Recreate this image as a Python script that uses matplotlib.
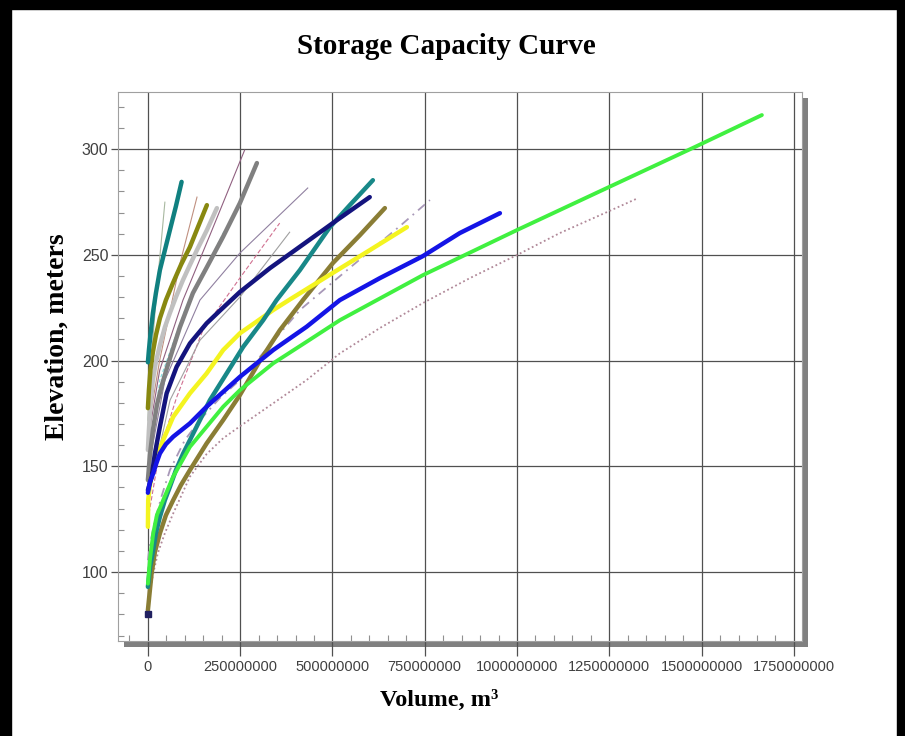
import matplotlib
matplotlib.use("Agg")
import matplotlib.pyplot as plt
from matplotlib.patches import Rectangle
from matplotlib.ticker import MultipleLocator, FuncFormatter

# Storage capacity curves: volume (m3) vs elevation (m)
vol_teal_a = [0, 2.7e6, 6.8e6, 13.5e6, 21.7e6, 32.5e6, 46e6, 59.6e6, 75.9e6, 91.3e6]
elev_teal_a = [199.2, 204.9, 212.0, 222.4, 231.9, 242.8, 252.2, 261.7, 273.0, 284.5]

vol_olive_a = [0, 2.7e6, 6.8e6, 13.5e6, 21.7e6, 32.5e6, 48.8e6, 67.7e6, 89.4e6, 113.8e6, 135.5e6, 159.8e6]
elev_olive_a = [177.5, 186.0, 195.5, 204.0, 212.0, 220.0, 228.6, 236.6, 245.2, 253.7, 263.1, 273.5]

vol_silver = [0, 2.7e6, 6.8e6, 13.5e6, 21.7e6, 32.5e6, 46e6, 59.6e6, 75.9e6, 94.8e6, 113.8e6,
              132.7e6, 159.8e6, 186.9e6]
elev_silver = [157.7, 167.1, 178.9, 190.8, 199.3, 207.3, 215.8, 222.5, 230.0, 238.0, 245.2,
               252.2, 261.7, 272.1]

vol_gray = [0, 5.4e6, 13.5e6, 24.4e6, 37.9e6, 51.5e6, 65e6, 86.7e6, 121.9e6, 159.8e6, 203.2e6,
            249.3e6, 295.3e6]
elev_gray = [143.5, 155.3, 167.1, 179.0, 188.4, 196.5, 204.0, 215.8, 231.9, 244.2, 258.4,
             274.5, 293.4]

vol_navy = [0, 10e6, 19e6, 32.5e6, 50.7e6, 77.7e6, 113.8e6, 159e6, 195e6, 222e6, 249e6, 330.5e6,
            425e6, 512e6, 601e6]
elev_navy = [138.7, 145.0, 156.1, 168.7, 184.5, 197.0, 208.1, 217.6, 223.6, 228.0, 232.4, 243.7,
             255.5, 266.4, 277.3]

vol_teal_b = [0, 5.4e6, 14.4e6, 21.7e6, 32.5e6, 46e6, 59.6e6, 75.9e6, 95.6e6, 131.9e6, 168e6,
              213.2e6, 258.2e6, 312.3e6, 348.6e6, 411.8e6, 493e6, 547e6, 609.5e6]
elev_teal_b = [93.0, 101.9, 110.4, 118.4, 126.1, 134.0, 140.3, 148.2, 156.1, 168.7, 181.3,
               193.9, 206.5, 219.1, 228.6, 242.8, 263.1, 273.5, 285.3]

vol_olive_b = [0, 5.4e6, 10e6, 19e6, 32.5e6, 48.8e6, 68.5e6, 89.4e6, 113.8e6, 159e6, 204e6,
               249.2e6, 303e6, 357.6e6, 420e6, 501e6, 574.3e6, 642e6]
elev_olive_b = [82.0, 91.5, 99.4, 109.5, 118.3, 126.9, 134.0, 141.1, 148.2, 160.8, 171.9,
                183.7, 199.8, 214.4, 228.6, 246.1, 259.3, 272.1]

vol_yellow = [0, 0.8e6, 5.4e6, 10.8e6, 21.7e6, 41.4e6, 68.5e6, 113.8e6, 159e6, 204e6, 249.2e6,
              339.4e6, 384.7e6, 493e6, 601e6, 701.6e6]
elev_yellow = [121.4, 134.0, 141.1, 145.9, 153.9, 162.4, 173.4, 184.5, 193.9, 205.0, 212.9,
               223.9, 228.9, 240.6, 252.2, 263.1]

vol_blue = [0, 5.4e6, 14.4e6, 23e6, 32.5e6, 48.8e6, 68.5e6, 113.8e6, 159e6, 249.2e6, 339.4e6,
            430e6, 520e6, 628.5e6, 745e6, 845e6, 953.6e6]
elev_blue = [137.5, 142.5, 146.7, 151.5, 156.1, 160.5, 164.0, 170.3, 178.2, 192.3, 205.0,
             216.0, 228.6, 239.0, 249.4, 260.3, 269.7]

vol_green = [0, 5.4e6, 14.4e6, 24.4e6, 41.4e6, 68.5e6, 113.8e6, 159e6, 204e6, 249.2e6, 339.4e6,
             430e6, 520e6, 745e6, 999.6e6, 1243.4e6, 1481.8e6, 1663.3e6]
elev_green = [94.5, 105.7, 118.3, 127.0, 134.0, 145.1, 159.2, 168.7, 178.2, 186.0, 198.7,
              208.9, 219.1, 240.4, 261.7, 281.6, 301.0, 316.1]

vol_dotted = [0, 5.4e6, 13.5e6, 27e6, 46e6, 68.5e6, 113.8e6, 159e6, 204e6, 249.2e6, 339.4e6,
              430e6, 520e6, 628.5e6, 745e6, 872.3e6, 999.6e6, 1116e6, 1243.4e6, 1327.4e6]
elev_dotted = [84.4, 90.5, 98.6, 109.0, 118.4, 127.7, 145.1, 155.8, 163.3, 168.9, 179.8,
               190.8, 203.4, 215.4, 227.2, 239.0, 249.9, 260.3, 270.2, 276.8]

vol_dashdot = [0, 5.4e6, 19e6, 38e6, 59.6e6, 100e6, 141e6, 195e6, 249.2e6, 330.5e6, 411.8e6,
               520e6, 601.4e6, 682.7e6, 764e6]
elev_dashdot = [105.6, 112.8, 124.6, 136.4, 148.2, 162.4, 171.9, 182.3, 190.8, 207.3, 223.9,
                239.9, 251.8, 263.6, 275.9]

vol_thin_purple = [0, 32e6, 95e6, 168e6, 262e6]
elev_thin_purple = [162.3, 195.5, 228.6, 259.3, 299.5]

vol_thin_mauve = [0, 46e6, 141e6, 249e6, 433e6]
elev_thin_mauve = [148.0, 190.7, 228.6, 250.8, 281.6]

vol_thin_pink = [0, 32e6, 78e6, 149e6, 249e6, 357e6]
elev_thin_pink = [124.5, 157.6, 182.7, 214.4, 239.0, 265.0]

vol_thin_gray = [0, 60e6, 141e6, 249e6, 384e6]
elev_thin_gray = [134.0, 181.3, 209.6, 230.0, 260.7]

vol_thin_sage = [0, 11e6, 24e6, 46e6]
elev_thin_sage = [171.8, 204.9, 233.3, 274.9]

vol_thin_rose = [0, 32e6, 87e6, 133e6]
elev_thin_rose = [167.0, 200.2, 246.0, 277.3]

vol_thin_cyan = [0, 32e6, 100e6, 208e6]
elev_thin_cyan = [148.0, 190.7, 223.8, 261.7]

marker_vol = [0]
marker_elev = [80]

plt.rcParams["font.family"] = ["Liberation Sans", "DejaVu Sans"]

fig = plt.figure(figsize=(9.05, 7.36), dpi=100)
ax = fig.add_axes([118 / 905, 95 / 736, 684 / 905, 549 / 736])

# drop shadow behind the plot frame
px_w, px_h = 1 / 905, 1 / 736
fig.add_artist(Rectangle((118 / 905 + 6 * px_w, 95 / 736 - 6 * px_h), 684 / 905, 549 / 736,
                         transform=fig.transFigure, facecolor="#808080", edgecolor="none", zorder=-1))

# page border
fig.add_artist(Rectangle((0, 0), 11 * px_w, 1, transform=fig.transFigure, color="black", zorder=5))
fig.add_artist(Rectangle((0, 1 - 9 * px_h), 1, 9 * px_h, transform=fig.transFigure, color="black", zorder=5))
fig.add_artist(Rectangle((1 - 8 * px_w, 0), 8 * px_w, 1, transform=fig.transFigure, color="black", zorder=5))

thin = 0.8
ax.plot(vol_thin_sage, elev_thin_sage, color="#a8b8a0", lw=thin)
ax.plot(vol_thin_rose, elev_thin_rose, color="#c09080", lw=thin)
ax.plot(vol_thin_purple, elev_thin_purple, color="#906080", lw=thin)
ax.plot(vol_thin_mauve, elev_thin_mauve, color="#9080a0", lw=thin)
ax.plot(vol_thin_pink, elev_thin_pink, color="#d07090", lw=thin, ls=(0, (4, 2)))
ax.plot(vol_thin_gray, elev_thin_gray, color="#a0a0a0", lw=thin)
ax.plot(vol_thin_cyan, elev_thin_cyan, color="#80e0e0", lw=thin, ls=(0, (3, 2)))
ax.plot(vol_dotted, elev_dotted, color="#b08898", lw=1.3, ls=(0, (1, 1.5)))
ax.plot(vol_dashdot, elev_dashdot, color="#a898b8", lw=1.3, ls=(0, (5, 3, 1, 3)))

thick = 3.2
ax.plot(vol_silver, elev_silver, color="#c0c0c0", lw=thick, solid_capstyle="round")
ax.plot(vol_gray, elev_gray, color="#808080", lw=thick, solid_capstyle="round")
ax.plot(vol_olive_a, elev_olive_a, color="#888810", lw=thick, solid_capstyle="round")
ax.plot(vol_teal_a, elev_teal_a, color="#108080", lw=thick, solid_capstyle="round")
ax.plot(vol_olive_b, elev_olive_b, color="#8a7d35", lw=thick, solid_capstyle="round")
ax.plot(vol_yellow, elev_yellow, color="#f4f420", lw=thick, solid_capstyle="round")
ax.plot(vol_teal_b, elev_teal_b, color="#188888", lw=thick, solid_capstyle="round")
ax.plot(vol_navy, elev_navy, color="#14147e", lw=thick, solid_capstyle="round")
ax.plot(vol_blue, elev_blue, color="#1414e6", lw=thick, solid_capstyle="round")
ax.plot(vol_green, elev_green, color="#40f040", lw=2.8, solid_capstyle="round")
ax.plot(marker_vol, marker_elev, "s", color="#202060", ms=5)

ax.set_xlim(-81e6, 1772e6)
ax.set_ylim(67.4, 327)

ax.xaxis.set_major_locator(MultipleLocator(250e6))
ax.xaxis.set_minor_locator(MultipleLocator(50e6))
ax.yaxis.set_major_locator(MultipleLocator(50))
ax.yaxis.set_minor_locator(MultipleLocator(10))
ax.xaxis.set_major_formatter(FuncFormatter(lambda v, p: "%d" % round(v)))

ax.grid(which="major", color="#505050", lw=0.9)
ax.set_axisbelow(True)
for s in ax.spines.values():
    s.set_color("#a0a0a0")
    s.set_linewidth(0.8)

ax.tick_params(axis="x", which="major", direction="out", length=11, width=0.9, color="#505050",
               labelsize=10.5, labelcolor="#404040", pad=3)
ax.tick_params(axis="y", which="major", direction="out", length=5, width=0.9, color="#505050",
               labelsize=11.5, labelcolor="#404040", pad=2)
ax.tick_params(which="minor", direction="in", length=4.5, width=0.8, color="#909090")

fig.text(0.493, 0.937, "Storage Capacity Curve", ha="center", va="center",
         family="Liberation Serif", fontweight="bold", fontsize=21)
fig.text(0.063, 0.543, "Elevation, meters", ha="center", va="center", rotation=90,
         family="Liberation Serif", fontweight="bold", fontsize=20)
fig.text(0.485, 0.049, "Volume, m\u00b3", ha="center", va="center",
         family="Liberation Serif", fontweight="bold", fontsize=17.5)

fig.savefig("out.png", dpi=100)
